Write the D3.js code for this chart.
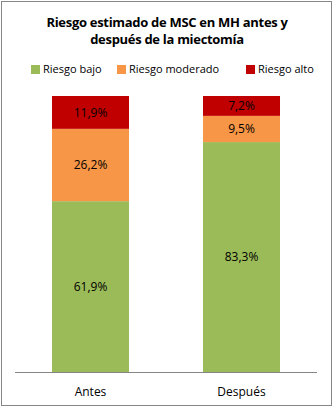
<!DOCTYPE html>
<html>
<head>
<meta charset="utf-8">
<script src="https://cdn.jsdelivr.net/npm/d3@7"></script>
<style>
  html, body { margin: 0; padding: 0; background: #fff; }
  svg { display: block; font-family: "Open Sans", "Noto Sans", sans-serif; }
</style>
</head>
<body>
<svg id="chart" width="334" height="411"></svg>
<script>
// Data
const categories = ['Antes', 'Después'];
const seriesNames = ['Riesgo bajo', 'Riesgo moderado', 'Riesgo alto'];
const riesgoBajo = [61.9, 83.3];
const riesgoModerado = [26.2, 9.5];
const riesgoAlto = [11.9, 7.2];
const titleLines = ['Riesgo estimado de MSC en MH antes y', 'después de la miectomía'];

const colors = ['#9BBB59', '#F79646', '#C00000'];

const width = 334;
const height = 411;
const plot = { left: 15, right: 317, top: 96, bottom: 372 };

const svg = d3.select('#chart');

// outer frame
svg.append('rect')
  .attr('x', 1.5)
  .attr('y', 1.5)
  .attr('width', 330)
  .attr('height', 404)
  .attr('fill', '#fff')
  .attr('stroke', '#868686')
  .attr('stroke-width', 1);

// Title
svg.append('g')
  .selectAll('text')
  .data(titleLines)
  .join('text')
  .attr('x', width / 2)
  .attr('y', (d, i) => 27 + i * 17)
  .attr('text-anchor', 'middle')
  .style('font-size', '13px')
  .style('letter-spacing', '-0.3px')
  .style('font-weight', 'bold')
  .text(d => d);

// table for the stack
const table = categories.map((c, i) => ({
  cat: c,
  'Riesgo bajo': riesgoBajo[i],
  'Riesgo moderado': riesgoModerado[i],
  'Riesgo alto': riesgoAlto[i]
}));
const stacked = d3.stack().keys(seriesNames)(table);

// Scales
const x = d3.scaleBand()
  .domain(categories)
  .range([plot.left, plot.right])
  .paddingInner(0.49)
  .paddingOuter(0.245);

const y = d3.scaleLinear()
  .domain([0, 100])
  .range([plot.bottom, plot.top]);

// Bars
const layers = svg.append('g')
  .selectAll('g')
  .data(stacked)
  .join('g')
  .attr('fill', (d, i) => colors[i]);

layers.selectAll('rect')
  .data(d => d)
  .join('rect')
  .attr('x', d => x(d.data.cat))
  .attr('y', d => y(d[1]))
  .attr('width', x.bandwidth())
  .attr('height', d => y(d[0]) - y(d[1]));

// Data labels
layers.selectAll('text')
  .data(d => d)
  .join('text')
  .attr('x', d => x(d.data.cat) + x.bandwidth() / 2)
  .attr('y', d => (y(d[0]) + y(d[1])) / 2)
  .attr('dy', '0.35em')
  .attr('text-anchor', 'middle')
  .attr('fill', '#000')
  .style('font-size', '12px')
  .text(d => d3.format('.1f')(d[1] - d[0]).replace('.', ',') + '%');

// x axis
const xAxis = svg.append('g')
  .attr('transform', `translate(0,${plot.bottom})`)
  .call(d3.axisBottom(x).tickSize(0).tickPadding(15));
xAxis.select('.domain')
  .attr('d', `M${plot.left},0.5H${plot.right}`)
  .attr('stroke', '#868686');
xAxis.selectAll('text')
  .style('font-size', '12px')
  .style('font-family', '"Open Sans", "Noto Sans", sans-serif')
  .attr('fill', '#000');

// Legend
const legendX = [31, 117, 246];
const legend = svg.append('g')
  .attr('transform', 'translate(0,65)');

const items = legend.selectAll('g')
  .data(seriesNames)
  .join('g')
  .attr('transform', (d, i) => `translate(${legendX[i]},0)`);

items.append('rect')
  .attr('width', 9)
  .attr('height', 9)
  .attr('fill', (d, i) => colors[i]);

items.append('text')
  .attr('x', 12)
  .attr('y', 4.5)
  .attr('dy', '0.35em')
  .style('font-size', '11px')
  .text(d => d);
</script>
</body>
</html>
